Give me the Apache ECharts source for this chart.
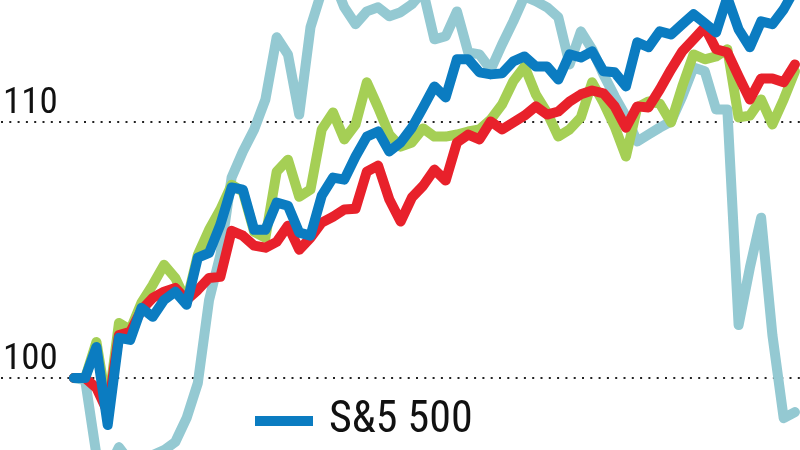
<!DOCTYPE html>
<html>
<head>
<meta charset="utf-8">
<script src="https://cdn.jsdelivr.net/npm/echarts@6/dist/echarts.min.js"></script>
<style>
html,body{margin:0;padding:0;background:#fff;overflow:hidden;width:800px;height:450px;}
#wrap{position:relative;width:800px;height:450px;overflow:hidden;}
/* the plotting area extends beyond the visible window: 120 sits above it, 90 below it */
#c{position:absolute;left:0;top:-134px;width:800px;height:768px;}
</style>
</head>
<body>
<div id="wrap"><div id="c"></div></div>
<script>
// Series values (index = 100 at start)
const sp500 = [100.00,100.00,101.21,98.16,101.57,101.49,102.74,102.39,103.05,103.37,102.86,104.70,104.89,105.99,107.44,107.36,105.79,105.79,106.85,106.73,105.68,105.56,107.12,107.83,107.75,108.65,109.43,109.63,108.85,109.20,109.78,110.57,111.39,110.96,112.45,112.45,111.94,111.86,111.90,112.37,112.56,112.17,112.17,111.66,112.64,112.52,112.76,111.98,111.94,111.39,113.11,112.92,113.54,113.42,113.82,114.21,113.86,113.50,114.87,113.62,112.92,113.93,113.82,114.40,115.19];
const redLine = [100.00,100.00,99.61,98.67,101.68,101.80,102.66,103.13,103.37,103.52,103.05,103.44,103.91,103.95,105.75,105.56,105.17,105.09,105.32,105.95,105.01,105.48,106.07,106.30,106.58,106.61,108.06,108.30,106.97,106.11,107.05,107.51,108.14,107.71,109.20,109.51,109.32,110.02,109.71,109.98,110.25,110.61,110.29,110.41,110.80,111.08,111.23,111.12,110.61,109.78,110.61,110.57,111.27,112.05,112.76,113.23,113.70,112.84,112.72,111.78,110.88,111.70,111.70,111.55,112.25];
const greenLine = [100.00,100.00,101.41,98.75,102.15,101.88,102.94,103.64,104.42,103.91,102.97,104.81,105.79,106.58,107.55,107.28,105.71,105.48,108.06,108.53,107.08,107.36,109.71,110.37,109.32,109.90,111.55,110.57,109.51,109.04,109.20,109.75,109.43,109.43,109.51,109.63,109.71,110.10,110.68,111.59,112.17,111.08,110.37,109.43,109.71,110.18,111.55,110.76,109.82,108.65,110.57,110.80,110.72,109.98,111.39,112.64,112.45,112.56,112.84,110.18,110.25,110.88,109.90,110.88,111.98];
const tealLine = [100.00,99.92,96.99,96.40,97.30,96.71,96.59,96.99,97.18,97.50,98.43,99.80,103.05,104.81,107.83,108.85,109.71,110.88,113.31,112.64,110.29,113.70,115.11,115.58,114.48,113.82,114.32,114.48,114.13,114.29,114.60,115.11,113.23,113.35,114.32,112.72,112.64,112.05,113.03,113.93,114.91,114.72,114.48,114.09,112.25,113.54,112.84,111.86,111.00,110.22,109.24,109.51,109.78,110.02,111.00,112.13,111.98,110.49,110.49,102.07,104.31,106.26,101.68,98.43,98.67];
const yTickLabels = [100, 110];
const legendLabel = 'S&5 500';

const FONT = '"Roboto Condensed","DejaVu Sans Condensed",sans-serif';
const toPairs = arr => arr.map((v, i) => [i, v]);

const chart = echarts.init(document.getElementById('c'), null, {renderer: 'canvas'});
chart.setOption({
  animation: false,
  backgroundColor: '#ffffff',
  grid: {left: 0, right: 0, top: 0, bottom: 0, containLabel: false},
  xAxis: {type: 'value', min: -6.47, max: 64.45, show: false},
  yAxis: {
    type: 'value', min: 90, max: 120, interval: 10,
    axisLine: {show: false}, axisTick: {show: false},
    axisLabel: {
      inside: true, align: 'left', verticalAlign: 'bottom', margin: 2,
      fontSize: 37, lineHeight: 37, fontFamily: FONT, color: '#111',
      formatter: v => yTickLabels.indexOf(v) >= 0 ? String(v) : ''
    },
    splitLine: {show: true, lineStyle: {color: '#222', width: 2, type: [2, 6.3]}}
  },
  legend: {
    data: [legendLabel], left: 250, top: 528,
    icon: 'rect', itemWidth: 58, itemHeight: 10,
    textStyle: {fontSize: 44, fontFamily: FONT, color: '#111', padding: [0, 0, 0, 11]}
  },
  series: [
    {name: 'Teal', type: 'line', data: toPairs(tealLine), showSymbol: false, symbol: 'none',
     lineStyle: {color: '#94c9d2', width: 10, cap: 'round', join: 'round'}, z: 2},
    {name: 'Green', type: 'line', data: toPairs(greenLine), showSymbol: false, symbol: 'none',
     lineStyle: {color: '#a5cf55', width: 10, cap: 'round', join: 'round'}, z: 3},
    {name: 'Red', type: 'line', data: toPairs(redLine), showSymbol: false, symbol: 'none',
     lineStyle: {color: '#e8212b', width: 10, cap: 'round', join: 'round'}, z: 4},
    {name: legendLabel, type: 'line', data: toPairs(sp500), showSymbol: false, symbol: 'none',
     lineStyle: {color: '#0b7cc1', width: 10, cap: 'round', join: 'round'}, itemStyle: {color: '#0b7cc1'}, z: 5}
  ]
});
</script>
</body>
</html>
